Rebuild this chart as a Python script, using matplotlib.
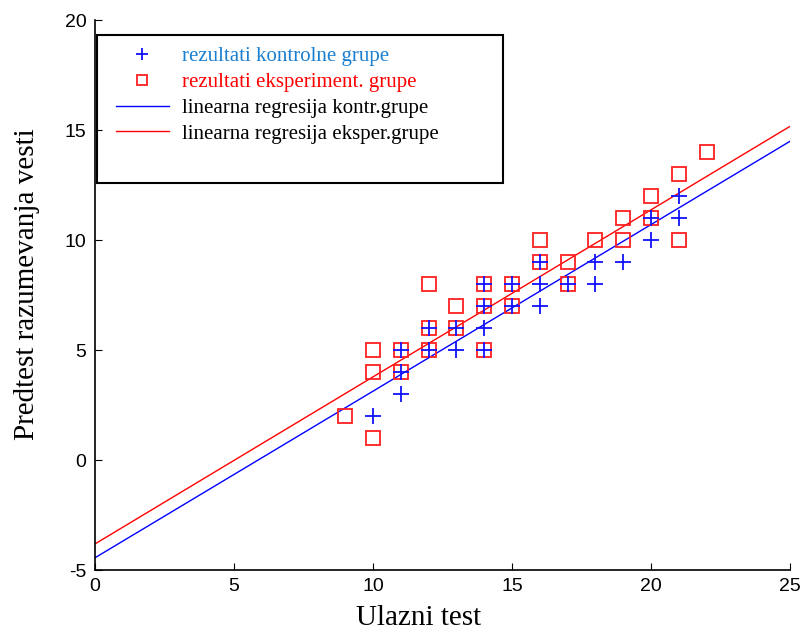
import numpy as np
import matplotlib
matplotlib.use("Agg")
import matplotlib.pyplot as plt
from matplotlib.patches import Rectangle

plt.rcParams["axes.unicode_minus"] = False

# control group (blue +)
ctrl_x = [10, 11, 11, 11, 12, 12, 13, 13, 14, 14, 14, 14, 15, 15, 16, 16, 16,
          17, 18, 18, 19, 20, 20, 21, 21]
ctrl_y = [2, 5, 4, 3, 6, 5, 6, 5, 8, 7, 6, 5, 8, 7, 9, 8, 7,
          8, 9, 8, 9, 11, 10, 12, 11]

# experimental group (red squares)
exp_x = [9, 10, 10, 10, 11, 11, 12, 12, 12, 13, 13, 14, 14, 14, 15, 15, 16, 16,
         17, 17, 18, 19, 19, 20, 20, 21, 21, 22]
exp_y = [2, 5, 4, 1, 5, 4, 8, 6, 5, 7, 6, 8, 7, 5, 8, 7, 10, 9,
         9, 8, 10, 11, 10, 12, 11, 13, 10, 14]

# regression lines (slope, intercept)
reg_ctrl = (0.758, -4.45)
reg_exp = (0.760, -3.82)

serif = "Liberation Serif"
sans = "Liberation Sans"

fig = plt.figure(figsize=(8.03, 6.33), dpi=100)
ax = fig.add_axes([0.118, 0.0995, 0.866, 0.8685])

xs = np.linspace(0, 25, 26)
ax.plot(xs, reg_ctrl[0] * xs + reg_ctrl[1], color="#0000ff", lw=1,
        label="linearna regresija kontr.grupe", zorder=2)
ax.plot(xs, reg_exp[0] * xs + reg_exp[1], color="#ff0000", lw=1,
        label="linearna regresija eksper.grupe", zorder=2)
ax.plot(exp_x, exp_y, ls="none", marker="s", ms=10, mfc="none", mec="#ff2020",
        mew=1.3, label="rezultati eksperiment. grupe", zorder=3)
ax.plot(ctrl_x, ctrl_y, ls="none", marker="+", ms=12, color="#1010ff",
        mew=1.3, label="rezultati kontrolne grupe", zorder=4)

ax.set_xlim(0, 25)
ax.set_ylim(-5, 20)
ax.set_xticks([0, 5, 10, 15, 20, 25])
ax.set_yticks([-5, 0, 5, 10, 15, 20])
ax.spines["top"].set_visible(False)
ax.spines["right"].set_visible(False)
ax.spines["left"].set_linewidth(1.2)
ax.spines["bottom"].set_linewidth(1.2)
ax.tick_params(direction="in", length=5, labelsize=14, pad=6)
for lab in ax.get_xticklabels() + ax.get_yticklabels():
    lab.set_family(sans)

ax.set_xlabel("Ulazni test", family=serif, fontsize=21)
ax.xaxis.set_label_coords(0.465, -0.063, transform=ax.transAxes)
ax.xaxis.label.set_va("top")
ax.set_ylabel("Predtest razumevanja vesti", family=serif, fontsize=21)
ax.yaxis.set_label_coords(-0.079, 0.52, transform=ax.transAxes)

# legend frame
ax.add_patch(Rectangle((0.003, 0.704), 0.584, 0.269, transform=ax.transAxes,
                       fill=False, ec="black", lw=1.5, zorder=5))

h, l = ax.get_legend_handles_labels()
order = [3, 2, 0, 1]
leg = ax.legend([h[i] for i in order], [l[i] for i in order],
                loc="upper left", bbox_to_anchor=(0.03, 0.952), frameon=False,
                prop={"family": serif, "size": 15}, handlelength=2.55,
                handletextpad=0.65, labelspacing=0.3, borderpad=0,
                borderaxespad=0, markerscale=0.75,
                labelcolor=["#1a7fd0", "#ff0000", "black", "black"])

fig.savefig("out.png", dpi=100)
